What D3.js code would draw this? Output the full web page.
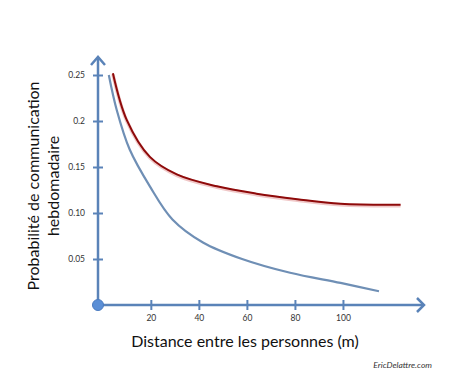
<!DOCTYPE html>
<html>
<head>
<meta charset="utf-8">
<script src="https://cdn.jsdelivr.net/npm/d3@7"></script>
<style>
  body { margin: 0; background: #fff; }
  text { font-family: Lato, "Open Sans", sans-serif; }
</style>
</head>
<body>
<div id="chart"></div>
<script>
// data
var redX  = [4.2, 10, 19.6, 30.8, 47.5, 64, 81, 99, 124]
var redY  = [0.252, 0.201, 0.161, 0.142, 0.129, 0.121, 0.115, 0.110, 0.109]
var blueX = [2.5, 5.8, 11.2, 19.6, 29, 41.7, 58, 78, 99, 115]
var blueY = [0.25, 0.212, 0.169, 0.129, 0.093, 0.068, 0.050, 0.035, 0.024, 0.015]
var xTicks = [20, 40, 60, 80, 100]
var yTicks = [0.05, 0.10, 0.15, 0.2, 0.25]
var yTickLabels = ["0.05", "0.10", "0.15", "0.2", "0.25"]

var width = 460, height = 375
var axisColor = "#5a83b8"

var svg = d3.select("#chart").append("svg")
    .attr("width", width)
    .attr("height", height)

// scales
var x = d3.scaleLinear().domain([-2, 130]).range([98, 415])
var y = d3.scaleLinear().domain([0, 0.25]).range([305, 75])

// axes lines
svg.append("line")
    .attr("x1", x(-2)).attr("x2", 423)
    .attr("y1", y(0)).attr("y2", y(0))
    .attr("stroke", axisColor).attr("stroke-width", 2.5)
svg.append("line")
    .attr("x1", x(-2)).attr("x2", x(-2))
    .attr("y1", y(0)).attr("y2", 58)
    .attr("stroke", axisColor).attr("stroke-width", 2.5)

// arrow heads
svg.append("path")
    .attr("d", "M417,298 L424," + y(0) + " L417,312")
    .attr("fill", "none").attr("stroke", axisColor).attr("stroke-width", 2.5)
svg.append("path")
    .attr("d", "M" + (x(-2) - 7) + ",65 L" + x(-2) + ",57 L" + (x(-2) + 7) + ",65")
    .attr("fill", "none").attr("stroke", axisColor).attr("stroke-width", 2.5)

// x ticks
var xAxis = svg.append("g")
    .attr("transform", "translate(0," + y(0) + ")")
    .call(d3.axisBottom(x).tickValues(xTicks).tickSize(0).tickPadding(10))
xAxis.select(".domain").remove()
xAxis.selectAll("text").attr("font-size", 8.5).attr("fill", "#333")
    .style("font-family", "Lato, sans-serif")
xAxis.selectAll(".tick").append("line")
    .attr("y1", -5).attr("y2", 5)
    .attr("stroke", axisColor).attr("stroke-width", 2)

// y ticks
var yAxis = svg.append("g")
    .attr("transform", "translate(" + x(-2) + ",0)")
    .call(d3.axisLeft(y).tickValues(yTicks).tickSize(0).tickPadding(13)
        .tickFormat(function (d, i) { return yTickLabels[i] }))
yAxis.select(".domain").remove()
yAxis.selectAll("text").attr("font-size", 8.5).attr("fill", "#333")
    .style("font-family", "Lato, sans-serif")
yAxis.selectAll(".tick").append("line")
    .attr("x1", -5).attr("x2", 5)
    .attr("stroke", axisColor).attr("stroke-width", 2)

// origin dot
svg.append("circle")
    .attr("cx", x(-2)).attr("cy", y(0)).attr("r", 5.5)
    .attr("fill", "#5b8fd6").attr("stroke", "#4a7bc0").attr("stroke-width", 1)

// curves
var line = d3.line()
    .x(function (d) { return x(d[0]) })
    .y(function (d) { return y(d[1]) })
    .curve(d3.curveCatmullRom)

var redData = redX.map(function (v, i) { return [v, redY[i]] })
var blueData = blueX.map(function (v, i) { return [v, blueY[i]] })

svg.append("path").datum(redData)
    .attr("d", line).attr("fill", "none")
    .attr("stroke", "#f0c8c8").attr("stroke-width", 3.5)
    .attr("transform", "translate(0,1)")
svg.append("path").datum(redData)
    .attr("d", line).attr("fill", "none")
    .attr("stroke", "#8e0a0a").attr("stroke-width", 2)

svg.append("path").datum(blueData)
    .attr("d", line).attr("fill", "none")
    .attr("stroke", "#6f8fb5").attr("stroke-width", 2.2)

// axis titles
svg.append("text")
    .attr("x", 245).attr("y", 347)
    .attr("text-anchor", "middle")
    .attr("font-size", 16).attr("fill", "#111")
    .text("Distance entre les personnes (m)")

svg.append("text")
    .attr("transform", "translate(39,186) rotate(-90)")
    .attr("text-anchor", "middle")
    .attr("font-size", 16).attr("fill", "#111")
    .text("Probabilité de communication")
svg.append("text")
    .attr("transform", "translate(59,186) rotate(-90)")
    .attr("text-anchor", "middle")
    .attr("font-size", 16).attr("fill", "#111")
    .text("hebdomadaire")

svg.append("text")
    .attr("x", 432).attr("y", 368)
    .attr("text-anchor", "end")
    .attr("font-size", 8.5).attr("font-style", "italic").attr("fill", "#333")
    .text("EricDelattre.com")
</script>
</body>
</html>
